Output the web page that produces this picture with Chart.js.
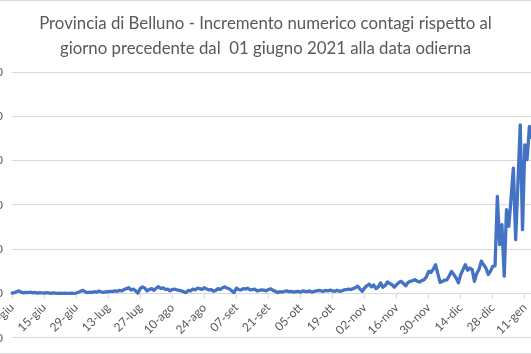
<!DOCTYPE html>
<html>
<head>
<meta charset="utf-8">
<script src="https://cdn.jsdelivr.net/npm/chart.js@4/dist/chart.umd.min.js"></script>
<style>
  html, body { margin: 0; padding: 0; background: #fff; overflow: hidden; }
  body { width: 531px; height: 354px; position: relative; }
  #frame { position: absolute; left: 0; top: 0; width: 531px; height: 352px;
           border-top: 1px solid #d9d9d9; border-bottom: 1px solid #d9d9d9; box-sizing: content-box; }
  #title { position: absolute; left: 0; width: 531px; top: 11px; text-align: center;
           font-family: Lato, "Open Sans", sans-serif; font-size: 16.8px; line-height: 24.5px; color: #595959;
           white-space: pre; }
  #wrap { position: absolute; left: -38px; top: 0; width: 575px; height: 354px; }
</style>
</head>
<body>
<div id="frame"></div>
<div id="wrap"><canvas id="c"></canvas></div>
<div id="title">Provincia di Belluno - Incremento numerico contagi rispetto al
giorno precedente dal  01 giugno 2021 alla data odierna</div>
<script>
// --- data ---
const startDate = [2021, 5, 1]; // 01 giugno 2021
const monthNames = ['gen','feb','mar','apr','mag','giu','lug','ago','set','ott','nov','dic'];
const increments = [
  2, 4, 8, 12, 6, 3, 5,
  4, 6, 3, 5, 2, 4, 3,
  2, 4, 3, 1, 3, 2, 1,
  2, 1, 2, 1, 1, 2, 1,
  2, 6, 10, 14, 7, 4, 6,
  5, 8, 6, 11, 7, 5, 8,
  7, 10, 9, 12, 10, 14, 12,
  18, 22, 26, 16, 20, 12, 2,
  22, 30, 24, 12, 18, 22, 14,
  24, 31, 22, 26, 18, 20, 12,
  18, 20, 16, 14, 12, 8, 4,
  14, 12, 20, 16, 24, 22, 18,
  26, 20, 16, 18, 10, 14, 22,
  18, 26, 30, 24, 20, 12, 4,
  24, 18, 16, 22, 20, 24, 16,
  18, 20, 12, 14, 16, 15, 12,
  18, 21, 14, 10, 4, 8, 6,
  10, 12, 8, 10, 6, 8, 10,
  6, 12, 10, 8, 12, 6, 10,
  12, 14, 12, 10, 14, 12, 15,
  12, 10, 14, 10, 12, 16, 18,
  20, 18, 22, 26, 33, 20, 10,
  25, 35, 42, 30, 38, 22, 30,
  48, 28, 36, 52, 45, 40, 28,
  40, 50, 55, 45, 35, 50, 55,
  58, 62, 56, 52, 58, 62, 75,
  100, 95, 110, 130, 90, 50, 55,
  60, 62, 80, 100, 85, 70, 48,
  85, 108, 130, 105, 115, 108, 55,
  90, 110, 146, 130, 115, 86, 100,
  123, 125, 438, 221, 311, 78, 378,
  303, 430, 566, 243, 500, 761, 288,
  671, 604, 754, 703, 739
];
const yTicks = [-200, 0, 200, 400, 600, 800, 1000];
const labelEvery = 14; // a date label every 14 days

// categories: one per day from startDate
const categories = increments.map((_, i) => {
  const d = new Date(Date.UTC(startDate[0], startDate[1], startDate[2] + i));
  return String(d.getUTCDate()).padStart(2, '0') + '-' + monthNames[d.getUTCMonth()];
});

const tickFont = { family: 'Lato, "Open Sans", sans-serif', size: 12 };

new Chart(document.getElementById('c'), {
  type: 'line',
  data: {
    labels: categories,
    datasets: [{
      data: increments,
      borderColor: '#4472C4',
      borderWidth: 3.3,
      pointRadius: 0,
      tension: 0,
      fill: false,
      borderJoinStyle: 'round',
      borderCapStyle: 'round'
    }]
  },
  options: {
    responsive: true,
    maintainAspectRatio: false,
    animation: false,
    layout: { padding: { top: 72, bottom: 16, left: 0, right: 0 } },
    plugins: { legend: { display: false }, tooltip: { enabled: false }, title: { display: false } },
    scales: {
      x: {
        type: 'category',
        position: { y: 0 },
        afterBuildTicks: (scale) => {
          scale.ticks = scale.ticks.filter(t => t.value % labelEvery === 0);
        },
        ticks: {
          autoSkip: false,
          maxRotation: 45,
          minRotation: 45,
          padding: 2,
          color: '#595959',
          font: tickFont,
          callback: function (value) { return this.getLabelForValue(value); }
        },
        grid: { drawOnChartArea: false, drawTicks: true, tickLength: 5, color: '#d9d9d9' },
        border: { display: true, color: '#d9d9d9', width: 1 }
      },
      y: {
        min: yTicks[0],
        max: yTicks[yTicks.length - 1],
        afterBuildTicks: (scale) => { scale.ticks = yTicks.map(v => ({ value: v })); },
        afterFit: (scale) => { scale.width = 50; },
        ticks: {
          padding: 9,
          color: '#595959',
          font: tickFont,
          callback: (v) => v.toLocaleString('it-IT')
        },
        grid: { color: '#d9d9d9', drawTicks: false },
        border: { display: false }
      }
    }
  }
});
</script>
</body>
</html>
